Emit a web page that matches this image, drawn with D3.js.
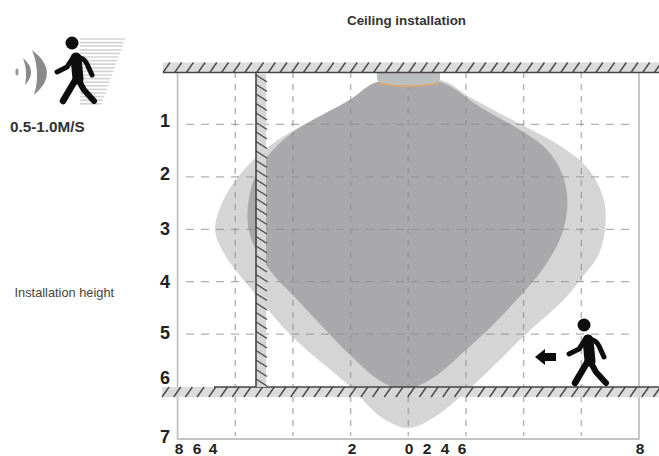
<!DOCTYPE html>
<html><head><meta charset="utf-8">
<script src="https://cdn.jsdelivr.net/npm/d3@7"></script>
<style>html,body{margin:0;padding:0;background:#fff;overflow:hidden}svg{display:block}text{font-family:"Liberation Sans",Arial,sans-serif}</style>
</head><body><svg id="c" width="659" height="456"></svg>
<script>
// Detection zones, [distance in grid units from the sensor axis, depth below the ceiling]
const lightZone = [[-0.54,0.19],[-1.01,0.53],[-1.58,0.88],[-1.99,1.11],[-2.45,1.45],[-2.95,2.0],[-3.23,2.5],[-3.35,3.01],[-3.2,3.45],[-2.74,4.12],[-1.99,5.07],[-1.01,6.0],[-0.45,6.6],[0,6.79],[0.4,6.62],[1.13,5.97],[2.06,4.98],[2.69,4.35],[3.02,3.91],[3.3,3.48],[3.42,2.9],[3.38,2.4],[3.12,1.85],[2.65,1.42],[1.99,1.02],[1.1,0.5],[0.55,0.15]];
const darkZone = [[-0.54,0.19],[-1.01,0.53],[-1.99,1.14],[-2.45,1.62],[-2.68,2.06],[-2.79,2.73],[-2.72,3.2],[-2.4,3.78],[-1.99,4.27],[-1.47,4.88],[-1.01,5.4],[-0.49,5.89],[-0.1,6.05],[0.2,5.97],[0.5,5.78],[1.02,5.28],[1.47,4.82],[2.03,4.16],[2.38,3.68],[2.66,3.1],[2.76,2.5],[2.67,1.95],[2.42,1.5],[1.99,1.14],[1.25,0.67],[0.55,0.19]];
const gridX = [-3,-2,-1,0,1,2,3];
const gridY = [1,2,3,4,5];
const yTickLabels = ["1","2","3","4","5","6","7"];
const xTickLabels = ["8","6","4","2","0","2","4","6","8"];

const svg = d3.select("#c");
const x = d3.scaleLinear().domain([-4,4]).range([177.6,639]);
const y = d3.scaleLinear().domain([0,7]).range([72,439]);
const yLab = d3.scaleOrdinal().domain(yTickLabels).range([121,174,229,281.5,333,378,437]);
const xLab = d3.scaleOrdinal().domain(d3.range(9)).range([179,197,213,352,409,427,445,462,640]);

const f = svg.append("defs").append("filter").attr("id","soft").attr("x",-0.02).attr("y",-0.02).attr("width",1.04).attr("height",1.04);
f.append("feGaussianBlur").attr("stdDeviation",0.5);
const art = svg.append("g").attr("filter","url(#soft)");

const zone = d3.line().x(d=>x(d[0])).y(d=>y(d[1])).curve(d3.curveCatmullRomClosed.alpha(0.5));
art.append("path").attr("d",zone(lightZone)).attr("fill","#d5d5d5");
art.append("path").attr("d",zone(darkZone)).attr("fill","#a9a9ab");

// frame
art.append("path").attr("d",`M${x(-4)},${y(0)}V${y(7)}H${x(4)}V${y(0)}`).attr("fill","none").attr("stroke","#c2c2c2").attr("stroke-width",1.8);

// grid
art.selectAll(".gv").data(gridX).join("line").attr("x1",d=>x(d)).attr("x2",d=>x(d)).attr("y1",y(0)).attr("y2",y(7)-3)
  .attr("stroke","#8f8f8f").attr("stroke-opacity",0.65).attr("stroke-width",1.5).attr("stroke-dasharray","6 6");
art.selectAll(".gh").data(gridY).join("line").attr("x1",186).attr("x2",634).attr("y1",d=>y(d)).attr("y2",d=>y(d))
  .attr("stroke","#8f8f8f").attr("stroke-opacity",0.7).attr("stroke-width",1.3).attr("stroke-dasharray","8 7");

// sensor
art.append("path").attr("d","M377,72H440V78Q440,82 436,83Q408,88 381,83Q377,82 377,78Z").attr("fill","#bcbfbf");
art.append("path").attr("d","M379,83Q408,90 438,83").attr("fill","none").attr("stroke","#e6a868").attr("stroke-width",1.6);

// hatched surfaces
function band(top, x0){
  const g = art.append("g");
  g.append("rect").attr("x",x0).attr("y",top).attr("width",659-x0).attr("height",10).attr("fill","#d6d6d6").attr("fill-opacity",0.85);
  g.selectAll("line.h").data(d3.range(x0,664,11.7)).join("line")
    .attr("x1",d=>d).attr("x2",d=>d+7).attr("y1",top+10).attr("y2",top)
    .attr("stroke","#4a4a4a").attr("stroke-width",1.4);
  return g;
}
band(62.5,163).append("line").attr("x1",163).attr("x2",659).attr("y1",72.5).attr("y2",72.5).attr("stroke","#444").attr("stroke-width",1.6);
band(387,162).append("line").attr("x1",214).attr("x2",659).attr("y1",387).attr("y2",387).attr("stroke","#444").attr("stroke-width",1.6);

// wall
const wall = art.append("g");
wall.append("rect").attr("x",256).attr("y",73).attr("width",10).attr("height",314).attr("fill","#d6d6d6");
wall.selectAll("line").data(d3.range(75,380,9.5)).join("line")
  .attr("x1",256).attr("x2",267).attr("y1",d=>d).attr("y2",d=>d+7).attr("stroke","#4a4a4a").attr("stroke-width",1.4);
wall.append("line").attr("x1",256).attr("x2",256).attr("y1",72).attr("y2",387).attr("stroke","#444").attr("stroke-width",1.6);

// speed lines
art.append("g").selectAll("line").data(d3.range(39,105,3.6)).join("line")
  .attr("x1",80).attr("x2",d=>125-(d-39)*0.36).attr("y1",d=>d).attr("y2",d=>d)
  .attr("stroke","#d4d4d4").attr("stroke-width",1.7);

// walker figure, origin at the head
function walker(px,py){
  const g = art.append("g").attr("transform",`translate(${px},${py})`).attr("fill","none").attr("stroke","#111").attr("stroke-linecap","round").attr("stroke-linejoin","round");
  g.append("circle").attr("r",6.5).attr("fill","#111").attr("stroke","none");
  g.append("path").attr("d","M3,14 Q12,14 15,21 L20,32").attr("stroke-width",5);
  g.append("path").attr("d","M1,15 L-5,24 L-15,29").attr("stroke-width",5);
  g.append("path").attr("d","M4,15 L6,36").attr("stroke-width",11);
  g.append("path").attr("d","M4,36 L-2,46 L-9,58").attr("stroke-width",6.5);
  g.append("path").attr("d","M7,38 L12,47 L22,58").attr("stroke-width",6);
}
walker(72,43);
walker(584,325);

// sound waves
art.append("path").attr("d","M32,50Q61,72 34,95Q41,72 32,50Z").attr("fill","#8a8a8a");
art.append("path").attr("d","M23,58Q38,71 25,85Q28,71 23,58Z").attr("fill","#8a8a8a");
art.append("ellipse").attr("cx",17).attr("cy",72).attr("rx",1.6).attr("ry",3.5).attr("fill","#999");

// arrow
art.append("path").attr("d","M535,357L545,349V353H556V361H545V365Z").attr("fill","#111");

// text
const bold = (s,xx,yy,size,anchor)=>svg.append("text").text(s).attr("x",xx).attr("y",yy).attr("font-size",size).attr("font-weight","bold").attr("text-anchor",anchor||"middle").attr("fill","#333");
svg.selectAll(".yl").data(yTickLabels).join("text").attr("x",165).attr("y",d=>yLab(d)).attr("dy","0.36em").attr("text-anchor","middle").attr("font-size",18).attr("font-weight","bold").attr("fill","#222").text(d=>d);
svg.selectAll(".xl").data(xTickLabels).join("text").attr("x",(d,i)=>xLab(i)).attr("y",453.5).attr("text-anchor","middle").attr("font-size",15.5).attr("font-weight","bold").attr("fill","#222").text(d=>d);
bold("Ceiling installation",406.5,25,13.4);
bold("0.5-1.0M/S",10,132,15.3,"start");
svg.append("text").text("Installation height").attr("x",14.5).attr("y",297).attr("font-size",12.8).attr("fill","#444");
</script></body></html>
